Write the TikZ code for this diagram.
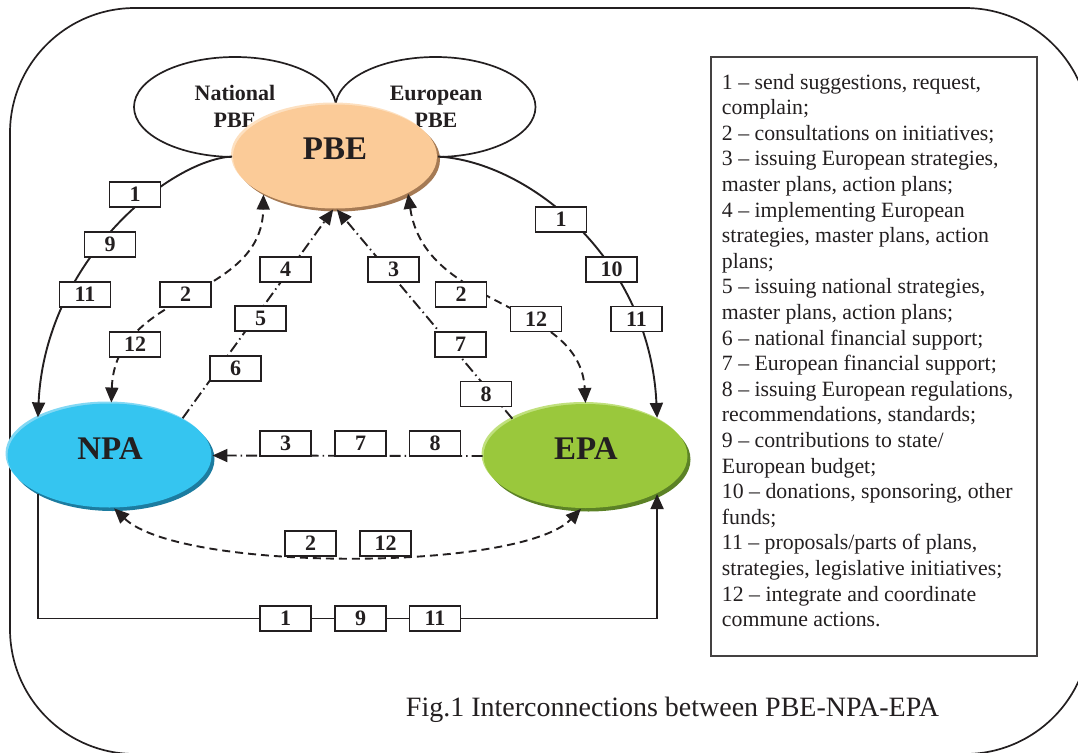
\documentclass[tikz,border=0pt]{standalone}
\usepackage{fontspec}
\setmainfont{Liberation Serif}
\usetikzlibrary{shapes.geometric,arrows.meta}
\definecolor{ink}{RGB}{35,31,32}
\definecolor{pbefill}{RGB}{251,203,152}
\definecolor{pbeshade}{RGB}{165,122,84}
\definecolor{pbelight}{RGB}{253,224,192}
\definecolor{npafill}{RGB}{53,197,240}
\definecolor{npashade}{RGB}{28,124,160}
\definecolor{npalight}{RGB}{130,216,244}
\definecolor{epafill}{RGB}{154,200,60}
\definecolor{epashade}{RGB}{92,130,38}
\definecolor{epalight}{RGB}{192,224,125}
\begin{document}
\begin{tikzpicture}[x=1pt,y=-1pt,color=ink,line width=1.9pt,
  numbox/.style={draw=ink,fill=white,line width=1.9pt,minimum width=51pt,minimum height=25pt,inner sep=0pt,font=\fontsize{22}{22}\selectfont\bfseries},
  arr/.style={-{Triangle[length=15pt,width=13pt]}},
  biarr/.style={{Triangle[length=15pt,width=13pt]}-{Triangle[length=15pt,width=13pt]}},
  dashcurve/.style={dash pattern=on 8pt off 5pt},
  dashdot/.style={dash pattern=on 11pt off 4pt on 1.5pt off 4pt},
  agent/.style={ellipse,minimum width=204pt,minimum height=104pt,inner sep=0pt},
  cloudtext/.style={anchor=base,inner sep=0pt,font=\fontsize{22}{22}\selectfont\bfseries},
  bigtext/.style={inner sep=0pt,font=\fontsize{33}{33}\selectfont\bfseries}]
\useasboundingbox (0,0) rectangle (1078,752);
% outer frame
\draw[line width=1.7pt,rounded corners=125pt] (10,8) rectangle (1090,754);
% clouds
\draw[line width=1.7pt] (235,107) ellipse [x radius=101pt, y radius=50pt];
\draw[line width=1.7pt] (435.5,107) ellipse [x radius=100pt, y radius=50pt];
\node[cloudtext] (natA) at (235,100) {National};
\node[cloudtext] (natB) at (235,127) {PBE};
\node[cloudtext] (eurA) at (436,100) {European};
\node[cloudtext] (eurB) at (436,127) {PBE};
% agents
\fill[pbeshade] (338,159.5) ellipse [x radius=102pt, y radius=52pt];
\fill[pbelight] (333,154.5) ellipse [x radius=102pt, y radius=52pt];
\node[agent,fill=pbefill] (pbe) at (335,156.5) {};
\fill[npashade] (112.5,459) ellipse [x radius=102pt, y radius=52pt];
\fill[npalight] (107.5,453.5) ellipse [x radius=102pt, y radius=52pt];
\node[agent,fill=npafill] (npa) at (109.5,455.5) {};
\fill[epashade] (588.5,459.5) ellipse [x radius=102pt, y radius=52pt];
\fill[epalight] (583.5,454) ellipse [x radius=102pt, y radius=52pt];
\node[agent,fill=epafill] (epa) at (585.5,456) {};
\node[bigtext] (pbetext) at (335,149) {PBE};
\node[bigtext] (npatext) at (110,449) {NPA};
\node[bigtext] (epatext) at (586,449) {EPA};
% connectors
\draw[arr] (pbe.west) .. controls (170,160) and (45,260) .. (npa.152);
\draw[arr] (pbe.east) .. controls (530,162) and (650,260) .. (epa.28);
\draw[biarr,dashcurve] (npa.88) .. controls (115,290) and (262,300) .. (pbe.208);
\draw[biarr,dashcurve] (pbe.-27) .. controls (425,310) and (580,300) .. (epa.90);
\draw[arr,dashdot] (npa.27) -- (pbe.-92);
\draw[arr,dashdot] (epa.153) -- (pbe.-88);
\draw[arr,dashdot] (epa.west) -- (npa.east);
\draw[biarr,dashcurve] (npa.-85) .. controls (180,572) and (520,572) .. (epa.-95);
% boxes
\node[numbox] (la1) at (135,194.5) {1};
\node[numbox] (la9) at (110,244.5) {9};
\node[numbox] (la11) at (85,294.5) {11};
\node[numbox] (ra1) at (561,219.5) {1};
\node[numbox] (ra10) at (611.5,269.5) {10};
\node[numbox] (ra11) at (636.5,319) {11};
\node[numbox] (ld2) at (185.5,294.5) {2};
\node[numbox] (ld12) at (135,344.5) {12};
\node[numbox] (rd2) at (461,294.5) {2};
\node[numbox] (rd12) at (536,319) {12};
\node[numbox] (lc4) at (285.5,269.5) {4};
\node[numbox] (lc5) at (260.5,318.5) {5};
\node[numbox] (lc6) at (235.5,368.5) {6};
\node[numbox] (rc3) at (393.5,269.5) {3};
\node[numbox] (rc7) at (460.5,344.5) {7};
\node[numbox] (rc8) at (486,394) {8};
\node[numbox] (m3) at (285.5,443.5) {3};
\node[numbox] (m7) at (360.5,443.5) {7};
\node[numbox] (m8) at (435,443.5) {8};
\node[numbox] (bd2) at (310.5,543.5) {2};
\node[numbox] (bd12) at (385.5,543.5) {12};
\node[numbox] (b1) at (285.5,618.5) {1};
\node[numbox] (b9) at (360.5,618.5) {9};
\node[numbox] (b11) at (435,618.5) {11};
\draw (npa.208) |- (b1.west);
\draw (b1.east) -- (b9.west) (b9.east) -- (b11.west);
\draw[arr] (b11.east) -| (epa.-28);
% legend
\draw[line width=1.7pt,color=ink!85] (711,57) rectangle (1037,656);
\node[anchor=north west,inner sep=0pt,align=left,font=\fontsize{21.8}{25.6}\selectfont] (legendtext) at (721,73) {1 – send suggestions, request,\\
complain;\\
2 – consultations on initiatives;\\
3 – issuing European strategies,\\
master plans, action plans;\\
4 – implementing European\\
strategies, master plans, action\\
plans;\\
5 – issuing national strategies,\\
master plans, action plans;\\
6 – national financial support;\\
7 – European financial support;\\
8 – issuing European regulations,\\
recommendations, standards;\\
9 – contributions to state/\\
European budget;\\
10 – donations, sponsoring, other\\
funds;\\
11 – proposals/parts of plans,\\
strategies, legislative initiatives;\\
12 – integrate and coordinate\\
commune actions.};
\node[anchor=base west,inner sep=0pt,font=\fontsize{28}{30}\selectfont] (caption) at (405,716) {Fig.1 Interconnections between PBE-NPA-EPA};
\end{tikzpicture}
\end{document}
